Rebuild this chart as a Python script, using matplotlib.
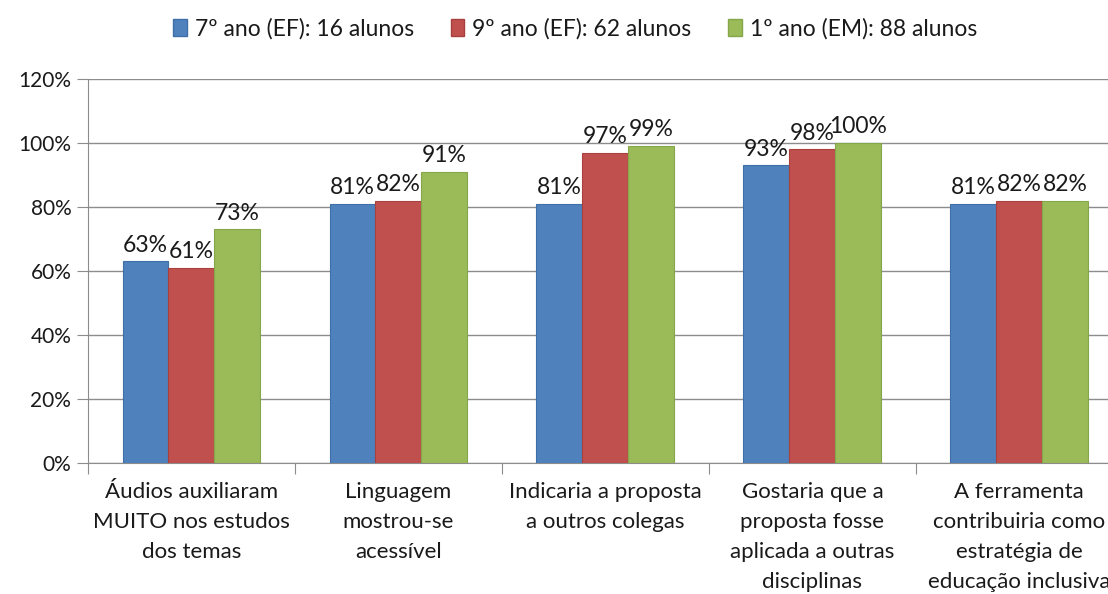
import numpy as np
import matplotlib.pyplot as plt
from matplotlib.patches import Patch

categories = [
    "Áudios auxiliaram\nMUITO nos estudos\ndos temas",
    "Linguagem\nmostrou-se\nacessível",
    "Indicaria a proposta\na outros colegas",
    "Gostaria que a\nproposta fosse\naplicada a outras\ndisciplinas",
    "A ferramenta\ncontribuiria como\nestratégia de\neducação inclusiva",
]
series_names = [
    "7º ano (EF): 16 alunos",
    "9º ano (EF): 62 alunos",
    "1º ano (EM): 88 alunos",
]
ano7 = [63, 81, 81, 93, 81]
ano9 = [61, 82, 97, 98, 82]
ano1em = [73, 91, 99, 100, 82]
colors = ["#4F81BD", "#C0504D", "#9BBB59"]
edges = ["#3F6FA8", "#A8403D", "#86A64A"]

plt.rcParams["font.family"] = ["Lato", "DejaVu Sans"]
text_color = "#1a1a1a"

fig = plt.figure(figsize=(11.08, 5.94), dpi=100)
ax = fig.add_axes([0.0794, 0.2205, 0.934, 0.6465])

x = np.arange(len(categories))
w = 0.222
for i, vals in enumerate([ano7, ano9, ano1em]):
    bars = ax.bar(x + (i - 1) * w, vals, width=w, color=colors[i],
                  edgecolor=edges[i], linewidth=0.8, zorder=3)
    for b, v in zip(bars, vals):
        ax.text(b.get_x() + b.get_width() / 2, v + 1.8, f"{v}%",
                ha="center", va="bottom", fontsize=16.5, color=text_color)

ax.set_ylim(0, 120)
ax.set_xlim(-0.5, len(categories) - 0.5)
ax.set_yticks(np.arange(0, 121, 20))
ax.set_yticklabels([f"{v}%" for v in range(0, 121, 20)], fontsize=15, color=text_color)
ax.grid(axis="y", color="#8c8c8c", linewidth=1, zorder=0)

ax.set_xticks(np.arange(-0.5, len(categories), 1))
ax.set_xticklabels([])
ax.set_xticks(x, categories, minor=True)
ax.tick_params(axis="x", which="major", length=8, color="#8c8c8c", direction="out")
ax.tick_params(axis="x", which="minor", length=0, pad=14, labelsize=16, labelcolor=text_color)
ax.tick_params(axis="y", length=8, color="#8c8c8c", pad=4)
for lbl in ax.get_xticklabels(minor=True):
    lbl.set_linespacing(1.62)

for s in ["top", "right"]:
    ax.spines[s].set_visible(False)
for s in ["left", "bottom"]:
    ax.spines[s].set_color("#8c8c8c")

handles = [Patch(facecolor=c, edgecolor=e) for c, e in zip(colors, edges)]
fig.legend(handles, series_names, loc="center", bbox_to_anchor=(0.519, 0.952),
           ncol=3, frameon=False, fontsize=16.5, handlelength=0.6, handleheight=0.75,
           handletextpad=0.35, columnspacing=1.6, labelcolor=text_color)

fig.savefig("out.png", dpi=100)
